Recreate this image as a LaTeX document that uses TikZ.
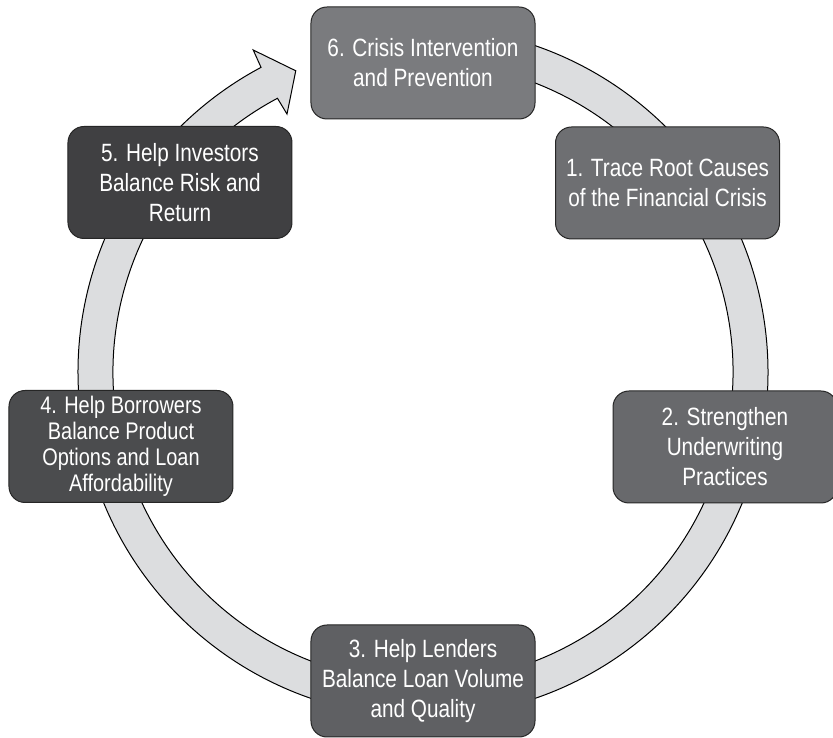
\documentclass[tikz,border=0pt]{standalone}
\usepackage{fontspec}
\setmainfont{Liberation Sans}[FakeStretch=0.83]
\usetikzlibrary{positioning}
\definecolor{ringfill}{HTML}{DCDDDF}
\definecolor{stepsix}{HTML}{7A7B7E}
\definecolor{stepone}{HTML}{6E6F72}
\definecolor{steptwo}{HTML}{68696C}
\definecolor{stepthree}{HTML}{5F6063}
\definecolor{stepfour}{HTML}{4B4C4E}
\definecolor{stepfive}{HTML}{404042}
\tikzset{
    %Define style for boxes
    stepbox/.style={
           rectangle,
           rounded corners=16pt,
           draw=black!85, line width=1pt,
           minimum width=224pt,
           minimum height=112pt,
           text=white,
           align=center,
           font=\fontsize{25}{30}\selectfont},
    % Define style for the cycle ring
    ring/.style={
           fill=ringfill,
           draw=black,
           line width=1pt}
}

\begin{document}
\begin{tikzpicture}[x=1pt, y=1pt]
	\useasboundingbox (-423,-366) rectangle (410,372);
	%
	% anneau
	%
	\draw[ring] (95:345pt) arc[start angle=95, end angle=-242, radius=345pt]
		-- (117.8:364pt) -- (112.9:327pt) -- (117.8:291.6pt)
		-- (118:310pt) arc[start angle=-242, end angle=95, radius=310pt] -- cycle;
	%
	% noeuds
	%
	\node[stepbox, fill=stepsix] (crisis) at (0,309) {6. Crisis Intervention\\and Prevention};
	\node[stepbox, fill=stepone] (trace) at (244.5,189) {1. Trace Root Causes\\of the Financial Crisis};
	\node[stepbox, fill=steptwo] (underwrite) at (302,-75) {2. Strengthen\\Underwriting\\Practices};
	\node[stepbox, fill=stepthree] (lenders) at (0,-309) {3. Help Lenders\\Balance Loan Volume\\and Quality};
	\node[stepbox, fill=stepfour, font=\fontsize{24}{26}\selectfont] (borrowers) at (-302,-74.5) {4. Help Borrowers\\Balance Product\\Options and Loan\\Affordability};
	\node[stepbox, fill=stepfive] (investors) at (-243,189.5) {5. Help Investors\\Balance Risk and\\Return};
\end{tikzpicture}
\end{document}
